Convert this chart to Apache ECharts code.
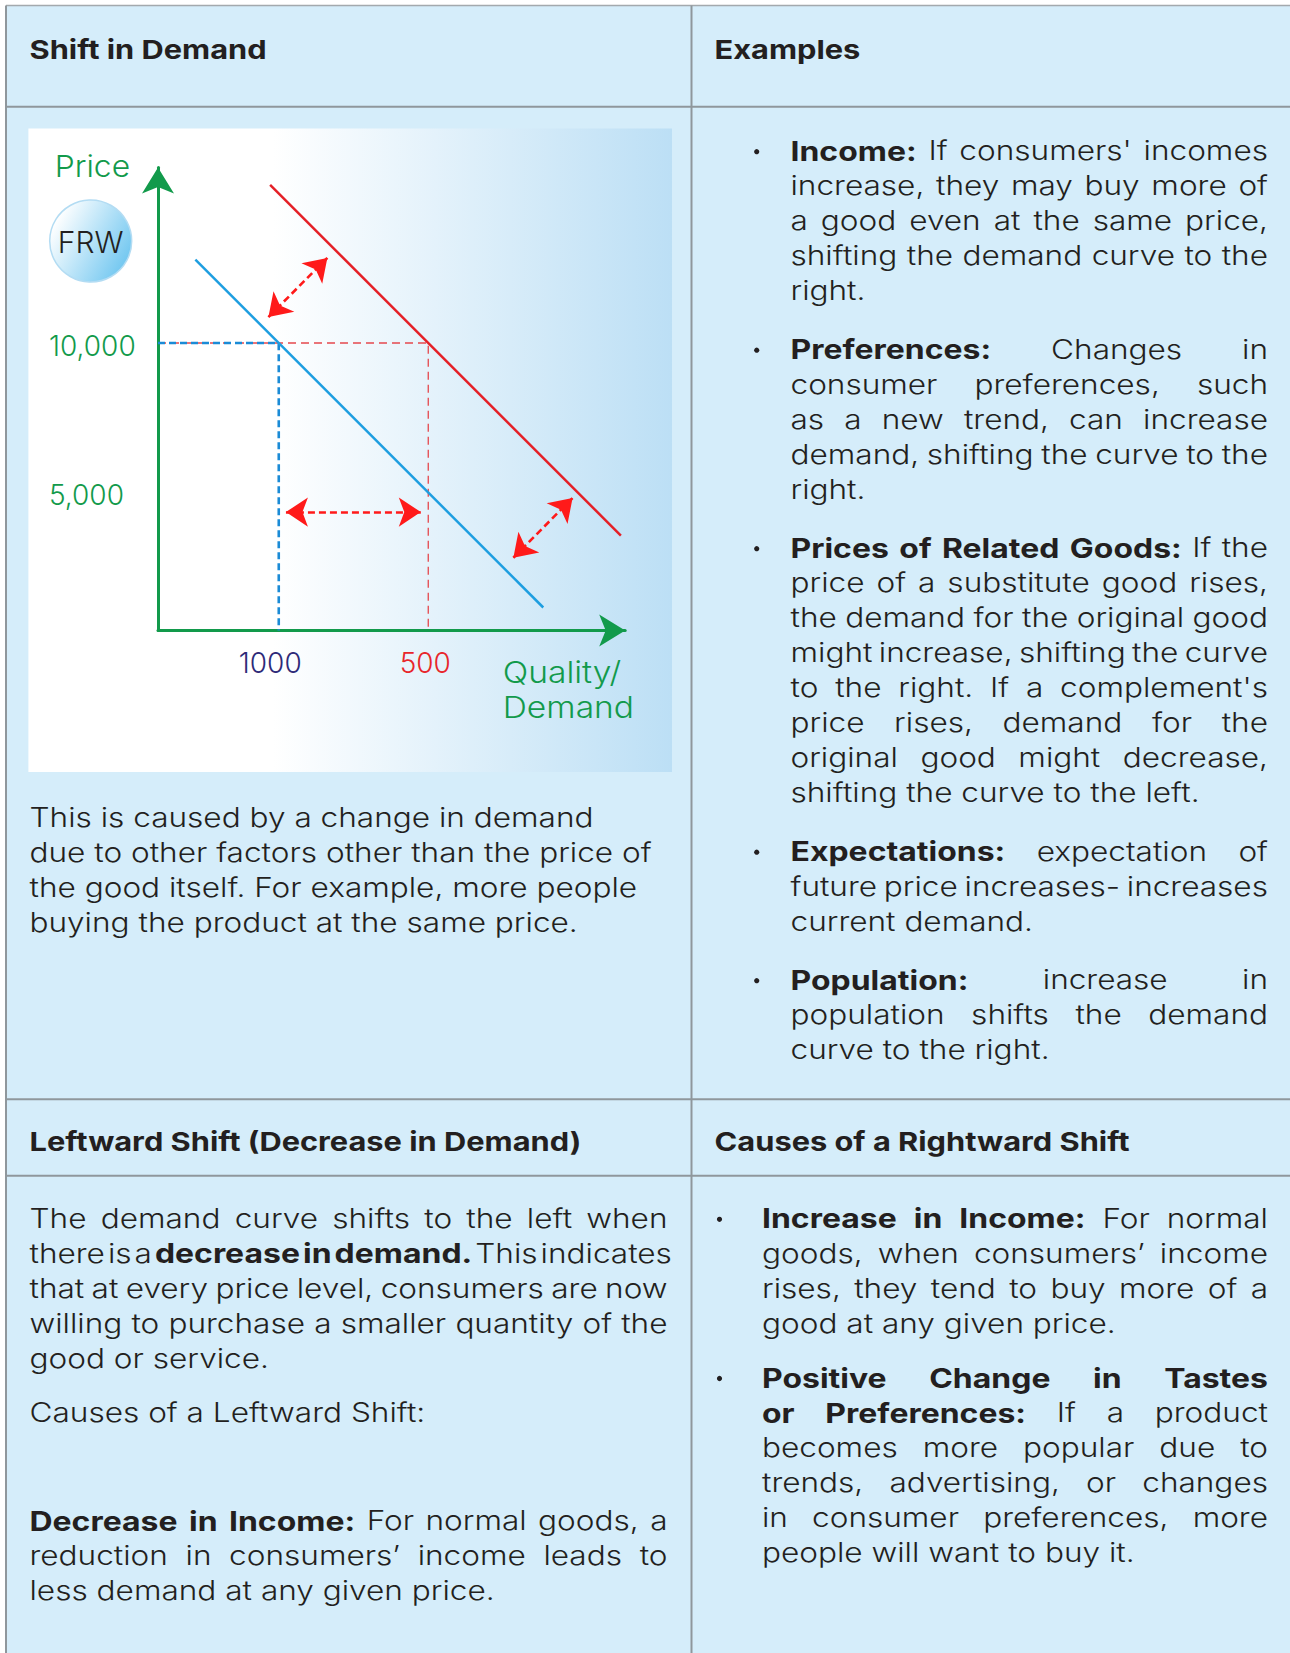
<!DOCTYPE html>
<html><head><meta charset="utf-8">
<script src="https://cdn.jsdelivr.net/npm/echarts@6/dist/echarts.min.js"></script>
<style>html,body{margin:0;padding:0;background:#fff}#c{width:1290px;height:1653px}</style>
</head><body><div id="c"></div><script>
// ---------------- DATA ----------------
const demandOriginal = [[1.3, 12900], [13.4, 800]];      // blue curve D1
const demandShifted  = [[3.9, 15500], [16.1, 3300]];     // red curve D2
const refPrice = 10000;
const refQtyOriginal = 4.2;
const refQtyShifted = 9.4;
const priceTickValues = [5000, 10000];
const priceTickLabels = ['5,000', '10,000'];
const qtyTickValues = [4.2, 9.4];
const qtyTickLabels = ['1000', '500'];
const shiftArrows = [
  [[3.84, 10900], [5.89, 12960]],
  [[4.45, 4120], [9.14, 4120]],
  [[12.36, 2530], [14.42, 4610]]
];
const headers = ['Shift in Demand', 'Examples', 'Leftward Shift (Decrease in Demand)', 'Causes of a Rightward Shift'];
const introLines = [
  'This is caused by a change in demand',
  'due to other factors other than the price of',
  'the good itself. For example, more people',
  'buying the product at the same price.'
];
const exampleItems = [
  ["**Income:** If consumers' incomes", 'increase, they may buy more of', 'a good even at the same price,', 'shifting the demand curve to the', 'right.'],
  ['**Preferences:** Changes in', 'consumer preferences, such', 'as a new trend, can increase', 'demand, shifting the curve to the', 'right.'],
  ['**Prices of Related Goods:** If the', 'price of a substitute good rises,', 'the demand for the original good', 'might increase, shifting the curve', "to the right. If a complement's", 'price rises, demand for the', 'original good might decrease,', 'shifting the curve to the left.'],
  ['**Expectations:** expectation of', 'future price increases- increases', 'current demand.'],
  ['**Population:** increase in', 'population shifts the demand', 'curve to the right.']
];
const leftwardParas = [
  ['The demand curve shifts to the left when', 'there is a **decrease in demand.** This indicates', 'that at every price level, consumers are now', 'willing to purchase a smaller quantity of the', 'good or service.'],
  ['Causes of a Leftward Shift:'],
  ['**Decrease in Income:** For normal goods, a', 'reduction in consumers\u2019 income leads to', 'less demand at any given price.']
];
const rightwardItems = [
  ['**Increase in Income:** For normal', 'goods, when consumers\u2019 income', 'rises, they tend to buy more of a', 'good at any given price.'],
  ['**Positive Change in Tastes**', '**or Preferences:** If a product', 'becomes more popular due to', 'trends, advertising, or changes', 'in consumer preferences, more', 'people will want to buy it.']
];

// ---------------- TEXT LAYOUT ----------------
const FAM = 'Inter, "Open Sans", sans-serif';
const INK = '#231f20';
const GREEN = '#129a4b';
const cv = document.createElement('canvas').getContext('2d');
function rawW(t, bold, size) { cv.font = (bold ? '700 ' : '300 ') + size + 'px ' + FAM; return cv.measureText(t).width; }
const BODY = 27, HEAD = 26;
const kR = 564 / rawW('This is caused by a change in demand', false, BODY);
const kB = 552 / rawW('Leftward Shift (Decrease in Demand)', true, HEAD);
function tw(t, bold, size) { return rawW(t, bold, size) * (bold ? kB : kR); }
const els = [];
function txt(t, x, y, bold, size, color, align) {
  return { type: 'text', x: x, y: y, scaleX: bold ? kB : kR, z: 10, silent: true,
    style: { text: t, fontSize: size, fontFamily: FAM, fontWeight: bold ? 700 : 300, fill: color || INK,
      textAlign: align || 'left', textVerticalAlign: 'middle', align: align || 'left', verticalAlign: 'middle' } };
}
function words(line) {
  const out = [];
  line.split('**').forEach((p, i) => { p.split(' ').filter(s => s.length).forEach(w => out.push({ t: w, b: i % 2 === 1 })); });
  return out;
}
const LH = 35;
function para(lines, x0, W, y0, justify) {
  const sp = tw(' ', false, BODY);
  lines.forEach((ln, i) => {
    const ws = words(ln);
    const wd = ws.map(w => tw(w.t, w.b, BODY));
    const sum = wd.reduce((a, b) => a + b, 0);
    const just = justify && i < lines.length - 1 && ws.length > 1;
    let gap = just ? (W - sum) / (ws.length - 1) : sp;
    if (gap < 3) gap = 3;
    let x = x0; const y = y0 + i * LH;
    ws.forEach((w, j) => { els.push(txt(w.t, x, y, w.b, BODY)); x += wd[j] + gap; });
  });
  return y0 + (lines.length - 1) * LH;
}
function bullet(x, y) {
  return { type: 'circle', z: 10, silent: true, shape: { cx: x, cy: y + 1, r: 2.6 }, style: { fill: INK } };
}

// ---------------- TABLE ----------------
const CELL = '#d5edfa', BORDER = '#8f979c';
const bg = [];
bg.push({ type: 'rect', z: -20, silent: true, shape: { x: 6, y: 5.5, width: 1290, height: 1660 }, style: { fill: CELL } });
bg.push({ type: 'rect', z: -19, silent: true, shape: { x: 28.4, y: 128.4, width: 643.6, height: 643.6 },
  style: { fill: new echarts.graphic.LinearGradient(0, 0, 1, 0, [{ offset: 0, color: '#ffffff' }, { offset: 0.38, color: '#ffffff' }, { offset: 1, color: '#bcdff5' }]) } });
[106.7, 1099.3, 1175.7].forEach(y => bg.push({ type: 'line', z: -18, silent: true, shape: { x1: 6, y1: y, x2: 1290, y2: y }, style: { stroke: BORDER, lineWidth: 2 } }));
bg.push({ type: 'line', z: -18, silent: true, shape: { x1: 6, y1: 5.5, x2: 1290, y2: 5.5 }, style: { stroke: '#a3a9ad', lineWidth: 1.5 } });
[6, 691.5].forEach(x => bg.push({ type: 'line', z: -18, silent: true, shape: { x1: x, y1: 5.5, x2: x, y2: 1653 }, style: { stroke: BORDER, lineWidth: 2 } }));

// headers
els.push(txt(headers[0], 29.5, 49.5, true, HEAD));
els.push(txt(headers[1], 714.6, 49.5, true, HEAD));
els.push(txt(headers[2], 29.5, 1141.4, true, HEAD));
els.push(txt(headers[3], 714.6, 1141.4, true, HEAD));

// row 2 left
para(introLines, 29.5, 620, 817, false);
// row 2 right
let yy = 150.7;
exampleItems.forEach(item => {
  els.push(bullet(756.7, yy));
  yy = para(item, 790.5, 477.5, yy, true) + 58.5;
});
// row 3 left
let y3 = 1218.3;
y3 = para(leftwardParas[0], 29.5, 638, y3, true) + 54;
y3 = para(leftwardParas[1], 29.5, 638, y3, true);
para(leftwardParas[2], 29.5, 638, 1520.8, true);
// row 3 right
let y4 = 1218.3;
rightwardItems.forEach(item => {
  els.push(bullet(719.5, y4));
  y4 = para(item, 762, 506, y4, true) + 54.2;
});

// chart decorations
const deco = [];
deco.push({ type: 'circle', z: 5, silent: true, shape: { cx: 90.7, cy: 241, r: 41 },
  style: { fill: new echarts.graphic.LinearGradient(0.1, 0.2, 1, 0.7, [{ offset: 0, color: '#ffffff' }, { offset: 1, color: '#6fc6f0' }]), stroke: '#b3dcf3', lineWidth: 1.5 } });
const ctext = (t, x, y, color, align, sx) => ({ type: 'text', x: x, y: y, z: 10, silent: true, scaleX: sx || 1,
  style: { text: t, fontSize: 30, lineHeight: 35, fontFamily: FAM, fontWeight: 300, fill: color, textAlign: align, textVerticalAlign: 'middle', align: align, verticalAlign: 'middle' } });
deco.push(ctext('FRW', 90.7, 242, INK, 'center', 1));
deco.push(ctext('Price', 92.4, 165.5, GREEN, 'center', 1.06));
deco.push(ctext('Quality/\nDemand', 502.7, 689.5, GREEN, 'left', 1.12));

// ---------------- CHART ----------------
const chart = echarts.init(document.getElementById('c'), null, { renderer: 'svg', width: 1290, height: 1653 });
const tickFont = { fontSize: 28, fontFamily: FAM, fontWeight: 300 };
const option = {
  animation: false,
  backgroundColor: '#ffffff',
  graphic: { elements: bg.concat(deco, els) },
  grid: { left: 158, top: 167.6, width: 467.2, height: 462.9, containLabel: false, outerBoundsMode: 'none' },
  xAxis: {
    type: 'value', min: 0, max: 16.25,
    axisLine: { show: true, lineStyle: { color: GREEN, width: 3 }, symbol: ['none', 'arrow'], symbolSize: [24, 26] },
    axisTick: { show: false }, splitLine: { show: false },
    axisLabel: {
      customValues: qtyTickValues, margin: 18,
      formatter: v => { const i = qtyTickValues.indexOf(v); return i === 0 ? '{q|' + qtyTickLabels[i] + '}' : '{r|' + qtyTickLabels[i] + '}'; },
      rich: {
        q: Object.assign({ color: '#2e2a78', padding: [0, 17, 0, 0] }, tickFont),
        r: Object.assign({ color: '#e8262b', padding: [0, 6, 0, 0] }, tickFont)
      }
    }
  },
  yAxis: {
    type: 'value', min: 0, max: 16100,
    axisLine: { show: true, lineStyle: { color: GREEN, width: 3 }, symbol: ['none', 'arrow'], symbolSize: [24, 26] },
    axisTick: { show: false }, splitLine: { show: false },
    axisLabel: {
      customValues: priceTickValues, margin: 109, align: 'left',
      formatter: v => { const i = priceTickValues.indexOf(v); return i === 0 ? '{a|' + priceTickLabels[i] + '}' : '{b|' + priceTickLabels[i] + '}'; },
      rich: {
        a: Object.assign({ color: GREEN, padding: [16, 0, 0, 0] }, tickFont),
        b: Object.assign({ color: GREEN, padding: [6, 0, 0, 0] }, tickFont)
      }
    }
  },
  series: [
    { type: 'line', name: 'ref-shifted', silent: true, clip: false, symbol: 'none', z: 2,
      data: [[0, refPrice], [refQtyShifted, refPrice], [refQtyShifted, 0]],
      lineStyle: { color: '#e5484d', width: 1.3, type: [8, 5] } },
    { type: 'line', name: 'ref-original', silent: true, clip: false, symbol: 'none', z: 3,
      data: [[0, refPrice], [refQtyOriginal, refPrice], [refQtyOriginal, 0]],
      lineStyle: { color: '#1b8bd6', width: 2.6, type: [7, 4] } },
    { type: 'line', name: 'D1', silent: true, clip: false, symbol: 'none', z: 4,
      data: demandOriginal, lineStyle: { color: '#1e9ee0', width: 2.5 } },
    { type: 'line', name: 'D2', silent: true, clip: false, symbol: 'none', z: 4,
      data: demandShifted, lineStyle: { color: '#e41f26', width: 2.5 } },
    { type: 'lines', name: 'shift', coordinateSystem: 'cartesian2d', silent: true, z: 5,
      data: shiftArrows.map(c => ({ coords: c })),
      symbol: ['arrow', 'arrow'], symbolSize: 22,
      lineStyle: { color: '#ff1a1a', width: 2.6, type: [7, 4], opacity: 1, curveness: 0 } }
  ]
};
chart.setOption(option);
</script></body></html>
